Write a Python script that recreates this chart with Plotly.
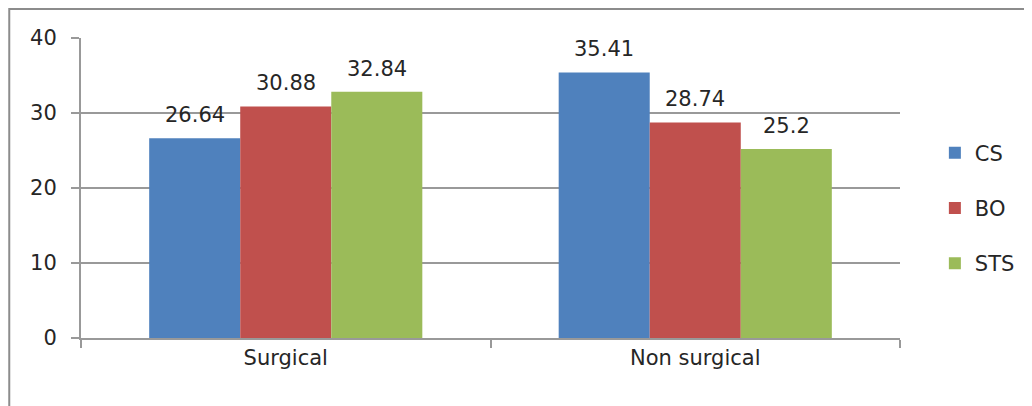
import plotly.graph_objects as go

categories = ["Surgical", "Non surgical"]
series_names = ["CS", "BO", "STS"]
cs_values = [26.64, 35.41]
bo_values = [30.88, 28.74]
sts_values = [32.84, 25.2]
value_labels = [["26.64", "35.41"], ["30.88", "28.74"], ["32.84", "25.2"]]
colors = ["#4F81BD", "#C0504D", "#9BBB59"]

# page has an 8px body margin, so the figure is offset by 8px
OFF = 8
W, H = 1032 - OFF, 406 - OFF
L, R, T, B = 81 - OFF, W - (903 - OFF), 38 - OFF, H - (338 - OFF)
pw, ph = W - L - R, H - T - B

font_family = "DejaVu Sans, sans-serif"
text_color = "#262626"
fs = 21
bargap = 0.333

all_values = [cs_values, bo_values, sts_values]
n_series = len(all_values)

fig = go.Figure()
annotations = []
for i, (name, vals) in enumerate(zip(series_names, all_values)):
    fig.add_trace(go.Bar(
        x=categories, y=vals, name=name,
        marker=dict(color=colors[i], line=dict(width=0)),
        cliponaxis=False, legendgroup=name,
    ))
    bw = (1 - bargap) / n_series
    for j, v in enumerate(vals):
        annotations.append(dict(
            x=j + (i - (n_series - 1) / 2) * bw, y=v, xref="x", yref="y",
            text=value_labels[i][j], showarrow=False,
            xanchor="center", yanchor="bottom", yshift=9,
            font=dict(size=fs, color=text_color, family=font_family),
        ))

def px_x(p):
    return (p - OFF - L) / pw

def px_y(p):
    return (H - B - (p - OFF)) / ph

fig.update_layout(
    width=W, height=H,
    margin=dict(l=L, r=R, t=T, b=B, pad=0),
    paper_bgcolor="white", plot_bgcolor="white",
    barmode="group", bargap=bargap, bargroupgap=0,
    font=dict(family=font_family, size=fs, color=text_color),
    showlegend=True,
    legend=dict(
        x=px_x(938), y=px_y(208), xanchor="left", yanchor="middle",
        font=dict(size=fs, color=text_color, family=font_family),
        tracegroupgap=25, bgcolor="rgba(0,0,0,0)",
    ),
    xaxis=dict(
        showline=True, linecolor="#999999", linewidth=2,
        ticks="outside", tickson="boundaries", ticklen=8, tickcolor="#999999", tickwidth=2,
        showgrid=False, zeroline=False,
        tickfont=dict(size=fs, color=text_color),
    ),
    yaxis=dict(
        range=[0, 40], dtick=10,
        showline=True, linecolor="#999999", linewidth=2,
        ticks="outside", ticklen=8, tickcolor="#999999", tickwidth=2,
        showgrid=True, gridcolor="#999999", gridwidth=2,
        zeroline=False,
        tickfont=dict(size=fs, color=text_color),
        ticklabelstandoff=10,
    ),
    annotations=annotations,
    shapes=[
        dict(type="rect", xref="paper", yref="paper",
             x0=px_x(9), x1=px_x(1080), y0=px_y(440), y1=px_y(9),
             line=dict(color="#8C8C8C", width=2), fillcolor="rgba(0,0,0,0)", layer="below"),
    ],
)

fig.write_html("out.html")
